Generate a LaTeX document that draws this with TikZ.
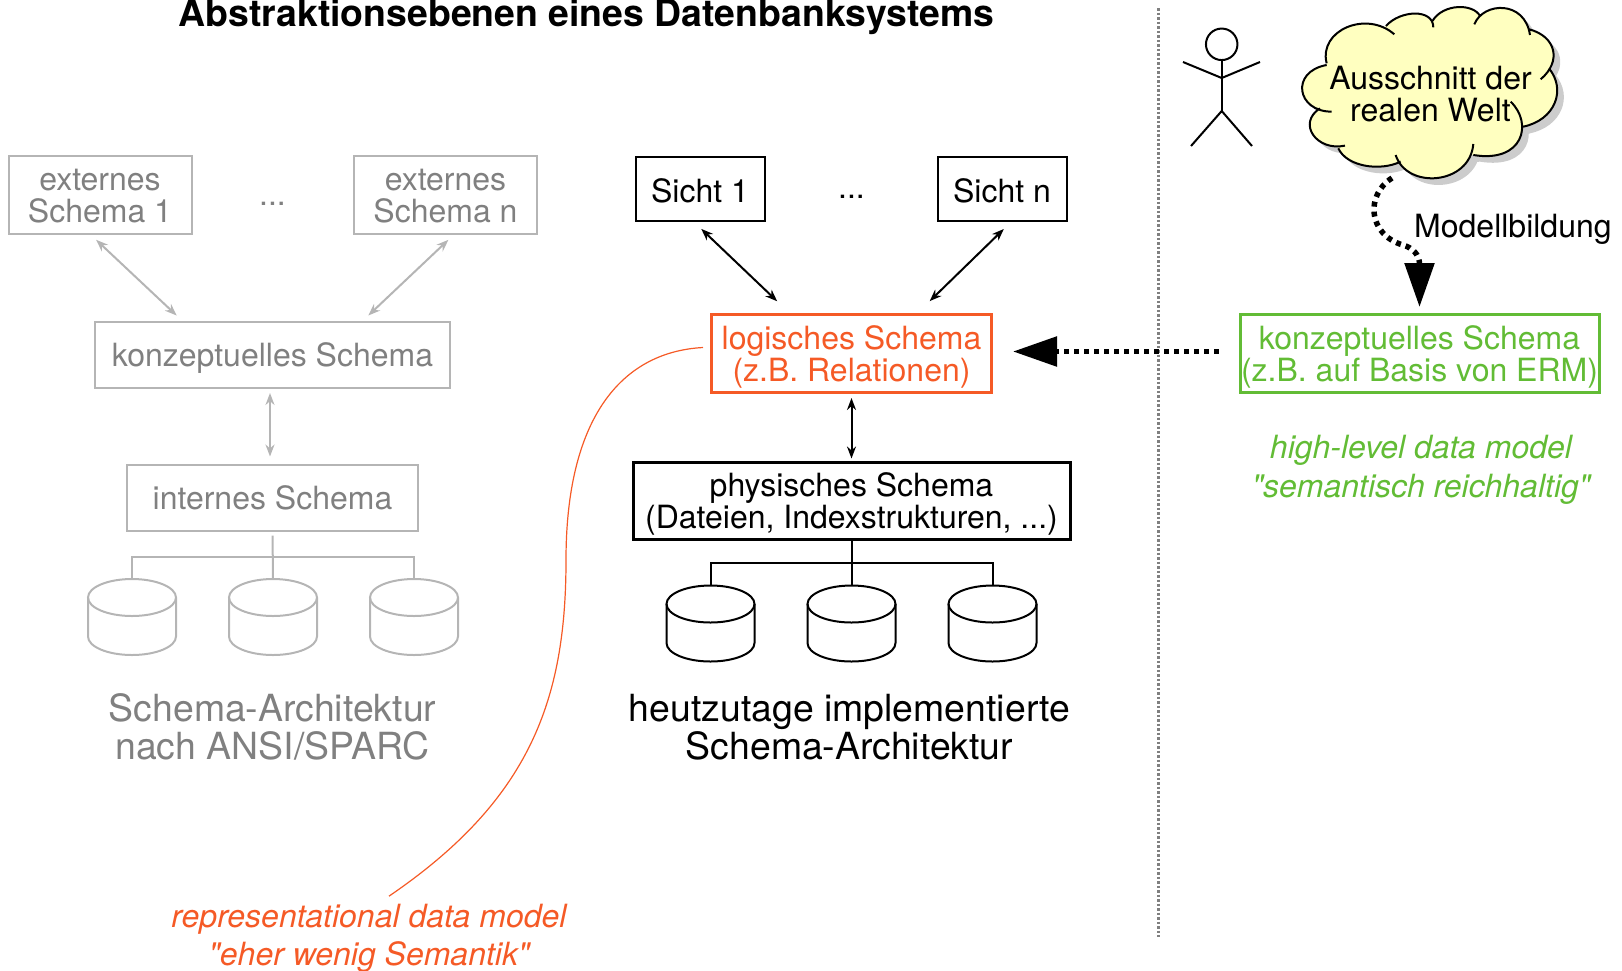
\documentclass[tikz,border=0pt]{standalone}
\usepackage{fontspec}
\setmainfont{TeX Gyre Heros}
\newfontfamily\hintfont{TeX Gyre Heros}
\usetikzlibrary{positioning, arrows.meta}
\definecolor{fade}{HTML}{808080}
\definecolor{fadeline}{HTML}{B5B5B5}
\definecolor{logic}{HTML}{F55A26}
\definecolor{highlevel}{HTML}{62BC35}
\definecolor{cloudfill}{HTML}{FFFFC0}
\definecolor{cloudshade}{HTML}{CCCCCC}
\newcommand{\cloudlobes}{
(530,190) .. controls (505,90) and (650,30) .. (733,103)
(708,78) .. controls (750,30) and (850,25) .. (850,82)
(848,62) .. controls (880,10) and (970,10) .. (990,48)
(973,73) .. controls (1000,5) and (1125,0) .. (1140,105)
(1138,88) .. controls (1220,110) and (1235,185) .. (1172,238)
(1197,205) .. controls (1250,270) and (1215,360) .. (1120,380)
(1082,305) .. controls (1150,370) and (1120,490) .. (970,465)
(970,432) .. controls (960,555) and (770,570) .. (737,465)
(752,485) .. controls (690,515) and (590,500) .. (565,445)
(585,437) .. controls (500,455) and (440,370) .. (510,325)
(545,335) .. controls (440,335) and (420,215) .. (530,195)}
\newcommand{\cloudcore}{
(530,190) -- (708,78) -- (850,62) -- (985,45) -- (1138,88) -- (1197,205) -- (1120,380) -- (970,465) -- (752,485) -- (565,445) -- (510,325) -- cycle}
\tikzset{
  txt/.style={font=\fontsize{32}{32}\selectfont, align=center, inner sep=0pt},
  bigtxt/.style={font=\fontsize{37.4}{37.5}\selectfont, align=center, inner sep=0pt},
  slanttxt/.style={font=\fontsize{32}{#1}\selectfont\hintfont\itshape, align=center, inner sep=0pt},
  box/.style={txt, draw, rectangle, line width=2pt, minimum width=#1},
  box/.default=129pt,
  raised/.style={text height=#1, text depth=0pt},
  wire/.style={line width=2pt},
  can/.pic={
    \draw[wire] (-44,-19.5) -- (-44,19.5) arc[start angle=180, end angle=360, x radius=44pt, y radius=18.5pt] -- (44,-19.5);
    \draw[wire] (0,-19.5) ellipse [x radius=44pt, y radius=18.5pt];
    \coordinate (-top) at (0,-38);
  },
  both/.style={line width=2pt, {Stealth[length=12pt,width=9pt]}-{Stealth[length=12pt,width=9pt]}},
  fat/.style={line width=5.5pt, dash pattern=on 5pt off 5pt, -{Triangle[length=44pt,width=29pt]}}
}
\begin{document}
\begin{tikzpicture}[x=1pt,y=-1pt,on grid]
\useasboundingbox (0,0) rectangle (1622,970);

\node[font=\fontsize{37.4}{37.4}\selectfont\bfseries, inner sep=0pt] (title) at (586.5,17) {Abstraktionsebenen eines Datenbanksystems};

\draw[fade, line width=2.5pt, dash pattern=on 2.5pt off 2pt] (1158.5,8) coordinate (cutA) -- (1158.5,937) coordinate (cutB);

% ansi/sparc
\begin{scope}[every node/.append style={text=fade, draw=fadeline}, fade]
\node[box=183pt, minimum height=78pt, raised=54pt] (extA) at (100,195) {externes\\Schema 1};
\node[box=183pt, minimum height=78pt, raised=54pt] (extB) [right=345.5pt of extA] {externes\\Schema n};
\node[box=355pt, minimum height=66pt, raised=23pt] (konzA) at (272.5,355) {konzeptuelles Schema};
\node[box=291pt, minimum height=66pt, raised=23pt] (intA) [below=142.5pt of konzA] {internes Schema};
\end{scope}
\pic[color=fadeline] (dbA) at (132,617) {can};
\pic[color=fadeline] (dbB) at (273,617) {can};
\pic[color=fadeline] (dbC) at (414,617) {can};
\node[txt, text=fade, inner sep=0pt] (dotsA) at (272.5,204) {...};
\node[bigtxt, text=fade] (capA) at (272.5,727) {Schema-Architektur\\nach ANSI/SPARC};

\begin{scope}[draw=fadeline, color=fadeline]
\draw[both, shorten <=7pt, shorten >=8pt] ([xshift=-9pt]extA.south) -- ([xshift=-90pt]konzA.north);
\draw[both, shorten <=7pt, shorten >=8pt] ([xshift=8pt]extB.south) -- ([xshift=90pt]konzA.north);
\draw[both, shorten <=4pt, shorten >=7pt] ([xshift=-2.5pt]konzA.south) -- ([xshift=-2.5pt]intA.north);
\draw[wire, shorten <=4pt] (intA.south) -- (dbB-top);
\draw[wire] (dbA-top) |- (273,556.5) -| (dbC-top);
\end{scope}

% implementiert
\node[box, minimum height=64pt, raised=27pt] (sichtA) at (700,189) {Sicht 1};
\node[box, minimum height=64pt, raised=27pt] (sichtB) [right=302pt of sichtA] {Sicht n};
\node[txt] (dotsB) at (851.5,197) {...};
\node[box=280pt, minimum height=78pt, draw=logic, text=logic, line width=3pt, raised=56pt] (logisch) at (851.5,353.5) {logisches Schema\\(z.B. Relationen)};
\node[box=437pt, minimum height=77pt, line width=3pt, raised=56pt] (phys) [below=147pt of logisch] {physisches Schema\\(Dateien, Indexstrukturen, ...)};
\pic (dbD) at (710.5,623.5) {can};
\pic (dbE) at (851.5,623.5) {can};
\pic (dbF) at (992.5,623.5) {can};
\node[bigtxt] (capB) at (849.5,727) {heutzutage implementierte\\Schema-Architektur};

\draw[both, shorten <=10pt, shorten >=17pt] ([xshift=-6pt]sichtA.south) -- ([xshift=-62pt]logisch.north);
\draw[both, shorten <=10pt, shorten >=17pt] ([xshift=9pt]sichtB.south) -- ([xshift=66pt]logisch.north);
\draw[both, shorten <=4pt, shorten >=2pt] (logisch.south) -- (phys.north);
\draw[wire] (phys.south) -- (dbE-top);
\draw[wire] (dbD-top) |- (851.5,563) -| (dbF-top);

% rechte seite
\node[box=359pt, minimum height=78pt, draw=highlevel, text=highlevel, line width=3pt, raised=56pt] (konzB) at (1419.5,353.5) {konzeptuelles Schema\\(z.B. auf Basis von ERM)};
\node[slanttxt=39.5, text=highlevel] (hinthigh) at (1421,470) {high-level data model\\"semantisch reichhaltig"};
\node[slanttxt=38, text=logic] (hintrep) at (369,938.5) {representational data model\\"eher wenig Semantik"};
\node[txt, anchor=west] (modell) at (1414,229) {Modellbildung};

\draw[fat] ([xshift=-20pt,yshift=2pt]konzB.west) -- ([yshift=2pt,xshift=20pt]logisch.east);

\begin{scope}[shift={(1150,0)},x=0.3333pt,y=-0.3333pt]
\fill[cloudshade, shift={(20,20)}] \cloudlobes \cloudcore;
\fill[cloudfill] \cloudlobes \cloudcore;
\draw[line width=2pt] \cloudlobes;
\end{scope}
\node[txt] (welt) at (1430.5,94) {Ausschnitt der\\realen Welt};
\coordinate (cloudfoot) at (1392,178);
\draw[fat, shorten >=6pt] (cloudfoot) .. controls (1365,195) and (1368,235) .. (1403,245) .. controls (1413,248) and (1419.5,255) .. (konzB.north);

\draw[logic, line width=1.2pt] ([xshift=-7pt,yshift=6pt]logisch.west) .. controls (620,352) and (566,420) .. (566,560) .. controls (566,700) and (530,800) .. ([xshift=20pt,yshift=8pt]hintrep.north);

% strichmann
\node[draw, circle, line width=2pt, minimum size=31.5pt, inner sep=0pt] (head) at (1221.7,44.3) {};
\coordinate (hip) at (1221.7,111);
\coordinate (chest) at (1221.7,78);
\draw[wire] (head.south) -- (hip);
\draw[wire] (1183,62) -- (chest) -- (1260,62);
\draw[wire] (1191,146) -- (hip) -- (1252,146);
\end{tikzpicture}
\end{document}
